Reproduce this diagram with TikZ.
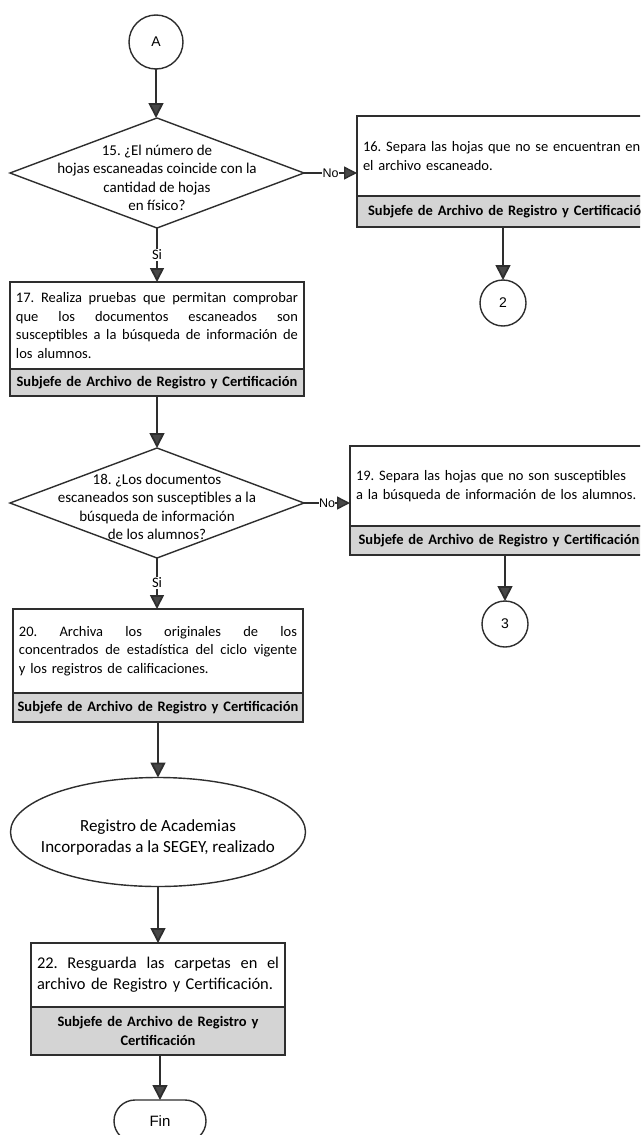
\documentclass[tikz,border=0pt]{standalone}
\usepackage{fontspec}
\setmainfont{Carlito}
\newfontfamily\arialf{Liberation Sans}
\usetikzlibrary{arrows.meta,shapes.geometric}
\definecolor{ln}{HTML}{2E2E2E}
\definecolor{ah}{HTML}{474747}
\definecolor{shade}{HTML}{D4D4D4}
\newcommand{\jl}[2]{\makebox[#1][s]{\spaceskip=0pt\xspaceskip=0pt\relax#2}}
\frenchspacing
\begin{document}
\begin{tikzpicture}[x=1pt,y=-1pt,
  every node/.style={inner sep=0pt, outer sep=0pt},
  conn/.style={draw=ln, line width=1.8pt, -{Triangle[length=15pt,width=15pt,fill=ah]}},
  sconn/.style={draw=ln, line width=1.8pt, -{Triangle[length=14pt,width=14pt,fill=ah]}},
  hconn/.style={draw=ln, line width=1.4pt, -{Triangle[length=13pt,width=13pt,fill=ah]}},
  mainbox/.style={draw=ln, line width=1.4pt, fill=white, anchor=north west, inner xsep=6pt,
    align=left, font=\fontsize{14.5}{18.5}\selectfont},
  rolebox/.style={draw=ln, line width=1.4pt, fill=shade, anchor=north west, inner xsep=3pt,
    align=center, font=\bfseries\fontsize{14.5}{19}\selectfont},
  dec/.style={draw=ln, line width=1.4pt, shape=diamond, fill=white},
  dectext/.style={align=center, font=\fontsize{15}{18.5}\selectfont},
  conncirc/.style={draw=ln, line width=1.4pt, circle, fill=white, font=\arialf\fontsize{14}{16}\selectfont},
  lab/.style={fill=white, inner sep=1pt, font=\fontsize{14.5}{16}\selectfont},
  nolab/.style={fill=white, inner sep=0.5pt, font=\arialf\fontsize{12.5}{14}\selectfont}
]
\clip (0,0) rectangle (640,1135);
\fill[white] (0,0) rectangle (640,1135);

% start connector
\node[conncirc, minimum size=54pt] (A) at (156,42) {A};

% decision 15
\node[dec, minimum width=294pt, minimum height=110pt] (d15) at (157,173) {};
\node[dectext] (t15) at (157,178) {15. ¿El número de\\hojas escaneadas coincide con la\\cantidad de hojas\\en físico?};

% box 16 (right)
\node[mainbox, text width=291pt, minimum height=80pt] (b16) at (357,116)
  {16. Separa las hojas que no se encuentran en\\el archivo escaneado.};
\node[rolebox, text width=297pt, minimum height=31pt] (r16) at (357,196)
  {Subjefe de Archivo de Registro y Certificación};
\node[conncirc, minimum size=46pt] (c2) at (503,303) {2};

% box 17
\node[mainbox, text width=282pt, minimum height=87pt] (b17) at (10,282)
  {\jl{282pt}{17. Realiza pruebas que permitan comprobar}\\
   \jl{282pt}{que los documentos escaneados son}\\
   \jl{282pt}{susceptibles a la búsqueda de información de}\\
   los alumnos.};
\node[rolebox, text width=288pt, minimum height=27pt] (r17) at (10,369)
  {Subjefe de Archivo de Registro y Certificación};

% decision 18
\node[dec, minimum width=294pt, minimum height=110pt] (d18) at (157,503) {};
\node[dectext] (t18) at (157,507) {18. ¿Los documentos\\escaneados son susceptibles a la\\búsqueda de información\\de los alumnos?};

% box 19 (right)
\node[mainbox, text width=286pt, minimum height=80pt] (b19) at (350,446)
  {19. Separa las hojas que no son susceptibles\\a la búsqueda de información de los alumnos.};
\node[rolebox, text width=292pt, minimum height=29pt] (r19) at (350,526)
  {Subjefe de Archivo de Registro y Certificación};
\node[conncirc, minimum size=46pt] (c3) at (505,624) {3};

% box 20
\node[mainbox, text width=278pt, minimum height=84pt] (b20) at (13,609)
  {\jl{278pt}{20. Archiva los originales de los}\\
   \jl{278pt}{concentrados de estadística del ciclo vigente}\\
   y los registros de calificaciones.};
\node[rolebox, text width=284pt, minimum height=29pt] (r20) at (13,693)
  {Subjefe de Archivo de Registro y Certificación};

% end event
\node[draw=ln, line width=1.4pt, ellipse, fill=white, minimum width=295pt, minimum height=109pt] (e21) at (158,832) {};
\node[align=center, font=\fontsize{17}{21}\selectfont] (t21) at (158,837)
  {Registro de Academias\\Incorporadas a la SEGEY, realizado};

% box 22
\node[mainbox, text width=242pt, minimum height=64pt, font=\fontsize{16.4}{21}\selectfont] (b22) at (31,943)
  {\jl{242pt}{22. Resguarda las carpetas en el}\\
   archivo de Registro y Certificación.};
\node[rolebox, text width=248pt, minimum height=48pt] (r22) at (31,1007)
  {Subjefe de Archivo de Registro y\\Certificación};

% terminal
\node[draw=ln, line width=1.4pt, rounded corners=21pt, minimum width=92pt, minimum height=42pt,
  font=\arialf\fontsize{15}{17}\selectfont, fill=white] (fin) at (160,1121) {Fin};

% connectors
\draw[conn] (A.south) -- (A.south |- d15.north);
\node[lab] (si1) at (157,255) {Si};
\draw[draw=ln, line width=1.8pt] (d15.south) -- (si1.north);
\draw[sconn] (si1.south) -- (si1.south |- b17.north);
\draw[hconn] (d15.east) -- node[nolab, pos=0.5] (no1) {No} (d15.east -| b16.west);
\draw[conn] (c2.north |- r16.south) -- (c2.north);
\draw[conn] (r17.south) -- (d18.north);
\draw[hconn] (d18.east) -- node[nolab, pos=0.5] (no2) {No} (d18.east -| b19.west);
\draw[conn] (c3.north |- r19.south) -- (c3.north);
\node[lab] (si2) at (157,583) {Si};
\draw[draw=ln, line width=1.8pt] (d18.south) -- (si2.north);
\draw[sconn] (si2.south) -- (si2.south |- b20.north);
\draw[conn] (r20.south) -- (e21.north);
\draw[conn] (e21.south) -- (b22.north);
\draw[conn] (fin.north |- r22.south) -- (fin.north);
\end{tikzpicture}
\end{document}
